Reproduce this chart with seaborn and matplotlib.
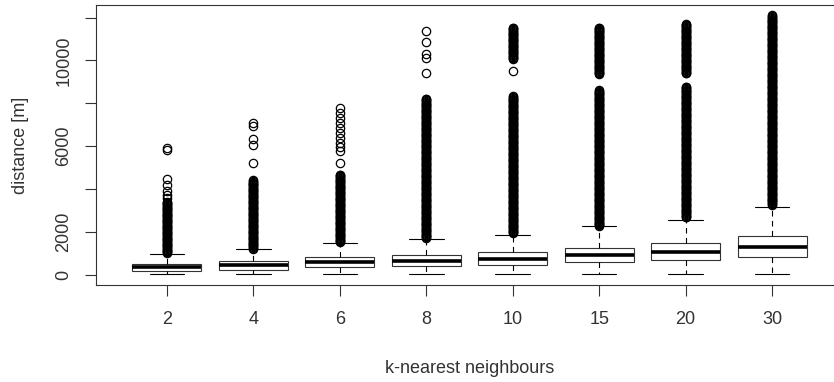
import numpy as np
import pandas as pd
import matplotlib
matplotlib.use("Agg")
import matplotlib.pyplot as plt
import seaborn as sns

# ---- data -------------------------------------------------------------
k_labels = ["2", "4", "6", "8", "10", "15", "20", "30"]
q1 = [173, 234, 341, 407, 453, 575, 668, 841]
median = [340, 453, 575, 654, 748, 897, 1075, 1290]
q3 = [500, 621, 806, 921, 1042, 1247, 1467, 1808]
whisker_low = [15, 15, 15, 15, 15, 15, 15, 15]
whisker_high = [967, 1195, 1463, 1682, 1869, 2250, 2570, 3164]

# runs of outliers so dense that the circles merge into a bar: (from, to)
dense_runs = [
    [(1000, 3400)],
    [(1210, 4400)],
    [(1510, 4650)],
    [(1700, 8200)],
    [(1930, 8330), (10050, 11530)],
    [(2260, 8600), (9350, 11520)],
    [(2670, 8760), (9390, 11710)],
    [(3260, 12100)],
]
# isolated outliers
sparse_outliers = [
    [3560, 3700, 3900, 4170, 4440, 5830, 5900],
    [5190, 6040, 6310, 6930, 7090],
    [5220, 5760, 5950, 6150, 6400, 6600, 6850, 7100, 7330, 7560, 7790],
    [9390, 10100, 10300, 10870, 11370],
    [9500],
    [],
    [],
    [],
]

ytick_values = [0, 2000, 4000, 6000, 8000, 10000, 12000]
ytick_labels = ["0", "2000", "", "6000", "", "10000", ""]

# ---- build a sample whose box statistics equal the values above -------
BLOCK = 2000      # copies of each quartile so the percentiles land exactly
RUN_STEP = 40     # spacing of circles inside a dense run (below 1 px)

rows_k, rows_d = [], []
for i, k in enumerate(k_labels):
    vals = ([whisker_low[i]] + [q1[i]] * BLOCK + [median[i]] * BLOCK
            + [q3[i]] * BLOCK + [whisker_high[i]])
    for lo, hi in dense_runs[i]:
        vals += list(np.append(np.arange(lo, hi, RUN_STEP), hi))
    vals += sparse_outliers[i]
    rows_k += [k] * len(vals)
    rows_d += vals
df = pd.DataFrame({"k": rows_k, "distance": rows_d})

# ---- plotting ---------------------------------------------------------
sns.set_style("ticks")
plt.rcParams["font.family"] = ["Liberation Sans", "DejaVu Sans"]

W, H, DPI = 834, 382, 100
fig = plt.figure(figsize=(W / DPI, H / DPI), dpi=DPI)
ax = fig.add_axes([96 / W, (H - 285) / H, (843 - 96) / W, (285 - 5) / H])

line_c = "#333333"
lw = 0.8
sns.boxplot(
    data=df, x="k", y="distance", order=k_labels, ax=ax,
    width=0.8, whis=1.5, color="white", linecolor=line_c, linewidth=lw,
    fliersize=6.0, capwidths=0.4,
    boxprops=dict(linewidth=lw, edgecolor=line_c),
    medianprops=dict(color="black", linewidth=2.6, solid_capstyle="butt"),
    whiskerprops=dict(color="black", linewidth=lw, linestyle=(0, (5, 4))),
    capprops=dict(color="black", linewidth=lw),
    flierprops=dict(marker="o", markerfacecolor="none",
                    markeredgecolor="black", markeredgewidth=0.9),
)

ax.set_xlim(-0.82, 7.82)
ax.set_ylim(-484, 12584)
ax.set_yticks(ytick_values)
ax.set_yticklabels(ytick_labels, rotation=90, va="center")

for sp in ax.spines.values():
    sp.set_color(line_c)
    sp.set_linewidth(lw)

txt_c = "#333333"
ax.tick_params(axis="both", length=8, width=lw, color=line_c,
               labelsize=13, labelcolor=txt_c)
ax.tick_params(axis="x", pad=11)
ax.tick_params(axis="y", pad=9)

ax.set_xlabel("k-nearest neighbours", fontsize=13, color=txt_c, labelpad=22.5)
ax.set_ylabel("distance [m]", fontsize=13, color=txt_c, labelpad=19)

fig.savefig("out.png", dpi=DPI)
